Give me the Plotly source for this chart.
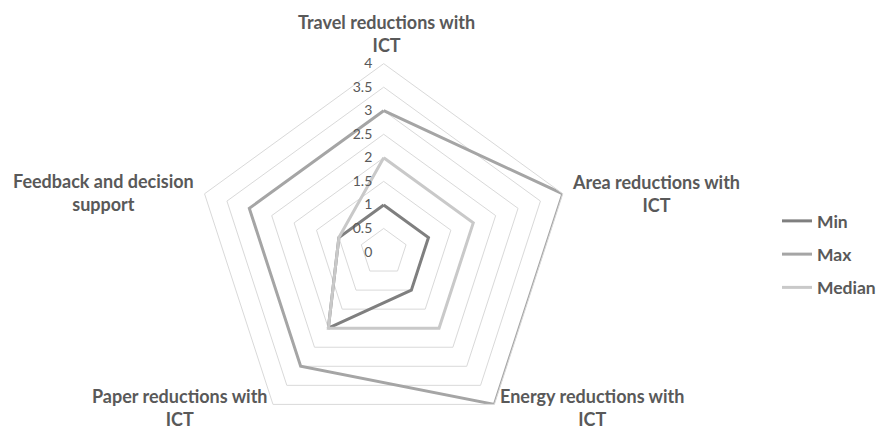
import plotly.graph_objects as go

# Categories (clockwise from the top) and the three summary series
categories = [
    "Travel reductions with ICT",
    "Area reductions with ICT",
    "Energy reductions with ICT",
    "Paper reductions with ICT",
    "Feedback and decision support",
]
min_values = [1, 1, 1, 2, 1]
max_values = [3, 4, 4, 3, 3]
median_values = [2, 2, 2, 2, 1]

series_names = ["Min", "Max", "Median"]
series_values = [min_values, max_values, median_values]
series_colors = ["#7f7f7f", "#a5a5a5", "#c9c9c9"]

# Category label text (two lines) and their placement in pixels (x, y from top)
label_lines = [
    "Travel reductions with<br>ICT",
    "Area reductions with<br>ICT",
    "Energy reductions with<br>ICT",
    "Paper reductions with<br>ICT",
    "Feedback and decision<br>support",
]
label_pos = [(388, 33), (658, 193), (594, 407), (181, 407), (104, 192)]

W, H = 881, 450
TEXT = "#595959"
GRID = "#d9d9d9"
FONT = "Lato"

fig = go.Figure()
for name, vals, col in zip(series_names, series_values, series_colors):
    fig.add_trace(go.Scatterpolar(
        r=vals + vals[:1],
        theta=categories + categories[:1],
        mode="lines",
        name=name,
        legendgroup=name,
        line=dict(color=col, width=3),
    ))

for txt, (px, py) in zip(label_lines, label_pos):
    fig.add_annotation(
        x=px / W, y=1 - py / H, xref="paper", yref="paper",
        text=txt, showarrow=False, align="center",
        xanchor="center", yanchor="middle", borderpad=0,
        font=dict(family=FONT, size=18, color=TEXT, weight="bold"),
    )

cx, cy, R = 385, 252, 189
fig.update_layout(
    width=W, height=H,
    margin=dict(l=0, r=0, t=0, b=0),
    paper_bgcolor="white",
    plot_bgcolor="white",
    font=dict(family=FONT, color=TEXT),
    polar=dict(
        domain=dict(x=[(cx - R) / W, (cx + R) / W],
                    y=[1 - (cy + R) / H, 1 - (cy - R) / H]),
        gridshape="linear",
        bgcolor="white",
        angularaxis=dict(
            rotation=90, direction="clockwise",
            showticklabels=False, ticks="",
            showgrid=False, showline=True,
            linecolor=GRID, linewidth=1,
        ),
        radialaxis=dict(
            range=[0, 4], tick0=0, dtick=0.5,
            angle=90, side="counterclockwise", tickangle=90,
            showline=False, ticks="outside", ticklen=6, tickcolor="rgba(0,0,0,0)",
            gridcolor=GRID, gridwidth=1,
            tickfont=dict(family=FONT, size=14, color=TEXT),
        ),
    ),
    legend=dict(
        x=780 / W, y=1 - 203 / H, xanchor="left", yanchor="top",
        tracegroupgap=7.5,
        font=dict(family=FONT, size=17.5, color=TEXT, weight="bold"),
        bgcolor="rgba(0,0,0,0)",
    ),
    showlegend=True,
)

fig.write_html(
    "out.html",
    post_script="document.documentElement.style.overflow='hidden';"
                "document.body.style.overflow='hidden';",
)
